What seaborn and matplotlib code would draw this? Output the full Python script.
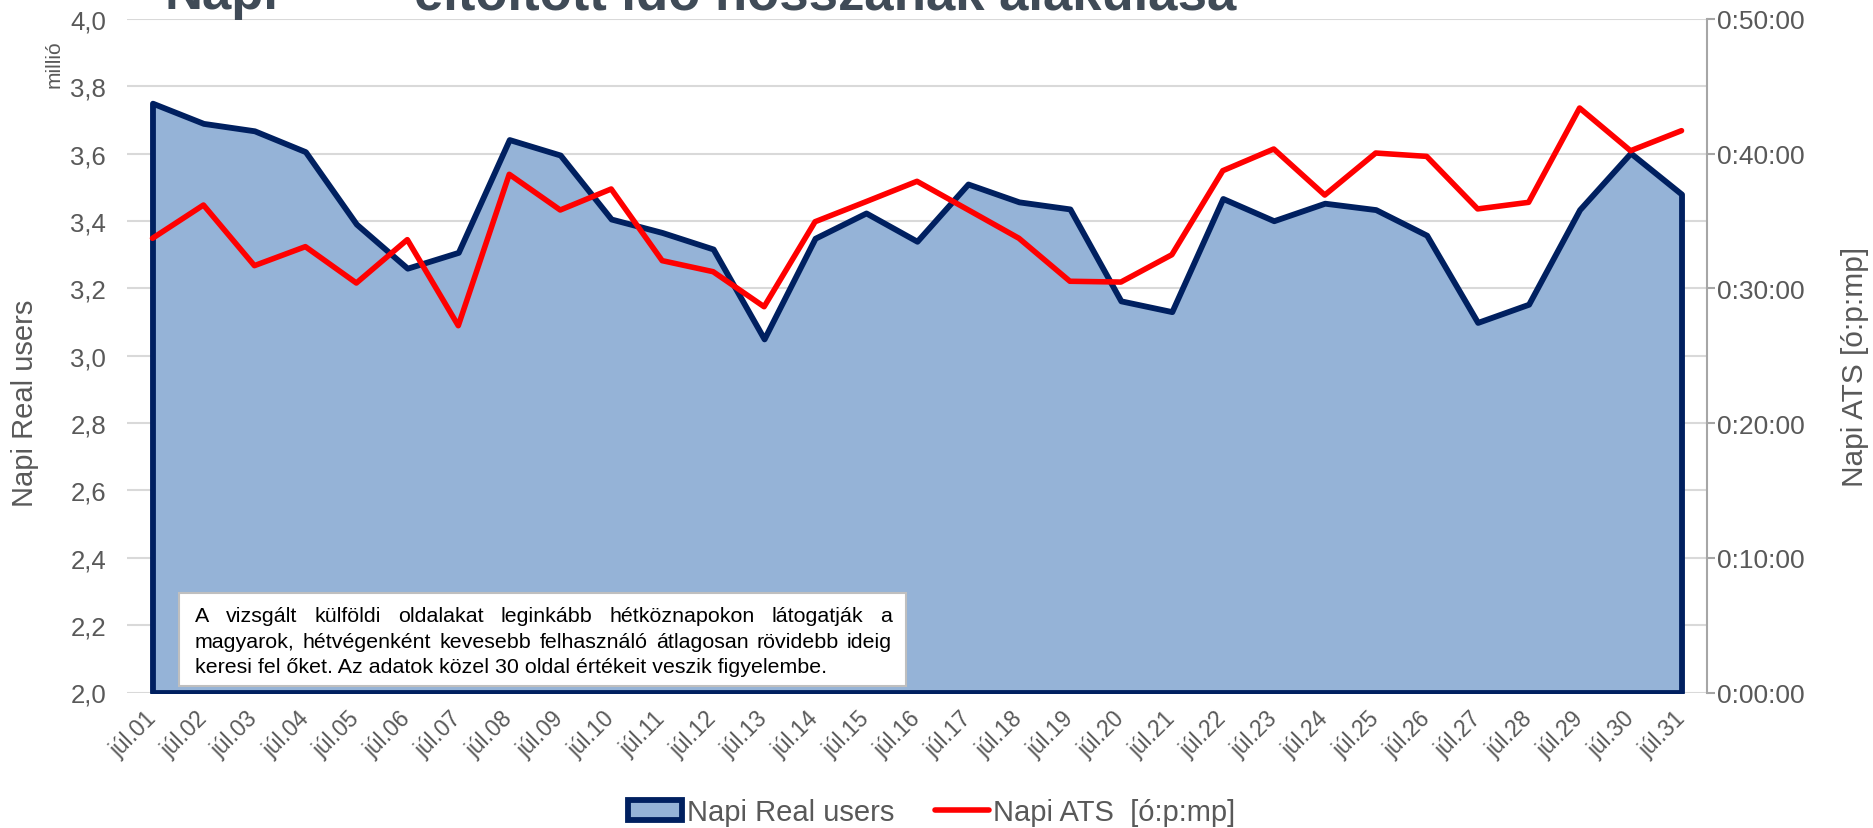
import numpy as np
import pandas as pd
import matplotlib
matplotlib.use('Agg')
import matplotlib.pyplot as plt
import seaborn as sns
from matplotlib.ticker import FuncFormatter, MultipleLocator
from matplotlib.patches import Patch, FancyBboxPatch
from matplotlib.lines import Line2D

# data
days = ['júl.%02d' % d for d in range(1, 32)]
real_users = [3.750, 3.690, 3.668, 3.606, 3.391, 3.260, 3.307, 3.642, 3.596, 3.406,
              3.366, 3.317, 3.050, 3.349, 3.424, 3.340, 3.510, 3.457, 3.436, 3.163,
              3.131, 3.467, 3.401, 3.453, 3.434, 3.358, 3.099, 3.153, 3.434, 3.602,
              3.480]
# average time spent, minutes
ats_min = [33.72, 36.19, 31.69, 33.10, 30.40, 33.62, 27.23, 38.47, 35.82, 37.38,
           32.06, 31.24, 28.64, 34.95, 36.44, 37.95, 35.84, 33.72, 30.53, 30.47,
           32.50, 38.74, 40.35, 36.93, 40.05, 39.80, 35.90, 36.39, 43.39, 40.22,
           41.71]
note_lines = [
    'A vizsgált külföldi oldalakat leginkább hétköznapokon látogatják a',
    'magyarok, hétvégenként kevesebb felhasználó átlagosan rövidebb ideig',
    'keresi fel őket. Az adatok közel 30 oldal értékeit veszik figyelembe.',
]

df = pd.DataFrame({'pos': np.arange(len(days)), 'day': days,
                   'users': real_users, 'ats': ats_min})

sns.set_theme(style='white')
plt.rcParams['font.family'] = ['Liberation Sans', 'DejaVu Sans']

W, H = 1874, 829
fig = plt.figure(figsize=(W / 100, H / 100), dpi=100)
ax = fig.add_axes([127 / W, 1 - 693.5 / H, (1707 - 127) / W, (693.5 - 20) / H])
ax2 = ax.twinx()

grey = '#595959'
navy = '#002060'

# area of daily real users
ax.fill_between(df['pos'], df['users'], 2.0, facecolor='#95B3D7',
                edgecolor=navy, linewidth=4.2, zorder=2)
ax.set_xlim(-0.5, len(days) - 0.5)
ax.set_ylim(2.0, 4.0)
ax.yaxis.set_major_locator(MultipleLocator(0.2))
ax.yaxis.set_major_formatter(FuncFormatter(lambda v, p: f'{v:.1f}'.replace('.', ',')))
ax.yaxis.grid(True, color='#D9D9D9', linewidth=1.5, zorder=0)
ax.set_axisbelow(True)
ax.set_xticks(df['pos'])
ax.set_xticklabels(days, rotation=45, ha='right', va='center', rotation_mode='anchor')
ax.tick_params(axis='x', length=0, pad=16, labelsize=16.5, labelcolor=grey)
ax.tick_params(axis='y', length=0, pad=15, labelsize=18.5, labelcolor=grey)
ax.set_ylabel('')
for s in ['left', 'top', 'right', 'bottom']:
    ax.spines[s].set_visible(False)

# average time spent line
sns.lineplot(data=df, x='pos', y='ats', ax=ax2, color='#FF0000', linewidth=4.0)
ax2.set_ylim(0, 50)
ax2.yaxis.set_major_locator(MultipleLocator(10))
ax2.yaxis.set_major_formatter(FuncFormatter(lambda v, p: f'0:{int(round(v)):02d}:00'))
ax2.tick_params(axis='y', direction='out', length=6, width=1.5, color='#A6A6A6',
                pad=1, labelsize=19, labelcolor=grey)
ax2.set_ylabel('')
ax2.set_xlabel('')
for s in ['left', 'top', 'bottom']:
    ax2.spines[s].set_visible(False)
ax2.spines['right'].set_color('#A6A6A6')
ax2.spines['right'].set_linewidth(1.5)

# axis titles
fig.text(25 / W, 1 - 403 / H, 'Napi Real users', rotation=90, fontsize=21,
         color=grey, ha='center', va='center')
fig.text(1855 / W, 1 - 367 / H, 'Napi ATS [ó:p:mp]', rotation=90, fontsize=21.5,
         color=grey, ha='center', va='center')
fig.text(54 / W, 1 - 64 / H, 'millió', rotation=90, fontsize=15, color=grey,
         ha='center', va='center')

# title, cut off at the top edge
title_col = '#404B57'
fig.text(165 / W, 1 - 9 / H, 'Napi', fontsize=38, fontweight='bold',
         color=title_col, va='baseline')
fig.text(414 / W, 1 - 9 / H, 'eltöltött idő hosszának alakulása', fontsize=38,
         fontweight='bold', color=title_col, va='baseline')

# note box
box = FancyBboxPatch((179 / W, 1 - 686.5 / H), (906.5 - 179) / W, (686.5 - 593.5) / H,
                     boxstyle='square,pad=0', transform=fig.transFigure,
                     facecolor='white', edgecolor='#BFBFBF', linewidth=1.5, zorder=5)
fig.patches.append(box)

renderer = fig.canvas.get_renderer()
note_size = 15.4
x0, x1 = 195, 892
line_y = [616.7, 642.3, 667.5]
for i, (line, yy) in enumerate(zip(note_lines, line_y)):
    words = line.split(' ')
    if i == len(note_lines) - 1:
        fig.text(x0 / W, 1 - yy / H, line, fontsize=note_size, color='black',
                 va='center', ha='left', zorder=6)
        continue
    widths = []
    for w in words:
        t = fig.text(0, 0, w, fontsize=note_size)
        widths.append(t.get_window_extent(renderer).width)
        t.remove()
    gap = (x1 - x0 - sum(widths)) / (len(words) - 1)
    xx = x0
    for w, wd in zip(words, widths):
        fig.text(xx / W, 1 - yy / H, w, fontsize=note_size, color='black',
                 va='center', ha='left', zorder=6)
        xx += wd + gap

handles = [Patch(facecolor='#95B3D7', edgecolor=navy, linewidth=4.2),
           Line2D([0], [0], color='#FF0000', linewidth=4.0)]
fig.legend(handles, ['Napi Real users', 'Napi ATS  [ó:p:mp]'], loc='center',
           bbox_to_anchor=(932 / W, 1 - 813 / H), ncol=2, frameon=False,
           fontsize=21, labelcolor=grey, handlelength=1.85, handletextpad=0.15,
           columnspacing=1.4)

fig.savefig('out.png', dpi=100)
